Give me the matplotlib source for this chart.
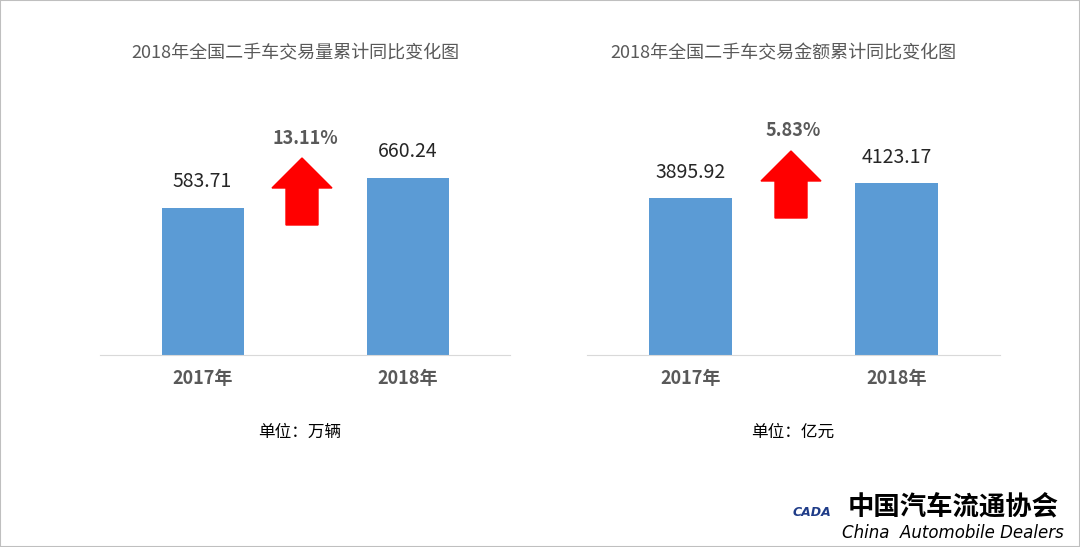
import matplotlib.pyplot as plt
from matplotlib.patches import Polygon, Rectangle

plt.rcParams['font.family'] = ['Noto Sans CJK SC', 'DejaVu Sans']

years = ["2017年", "2018年"]
volume = [583.71, 660.24]
amount = [3895.92, 4123.17]
growth = ["13.11%", "5.83%"]
titles = ["2018年全国二手车交易量累计同比变化图", "2018年全国二手车交易金额累计同比变化图"]
units = ["单位：万辆", "单位：亿元"]

W, H = 1080, 547
fig = plt.figure(figsize=(W / 100, H / 100), dpi=100)

def fx(px):
    return px / W

def fy(py):
    return 1 - py / H

panels = [
    dict(vals=volume, left=100, right=510, ylim=(208, 858), fmt="{:.2f}",
         arrow=(272, 158), gx=305, gy=138, tx=295, ux=300),
    dict(vals=amount, left=587, right=1000, ylim=(1517, 5380), fmt="{:.2f}",
         arrow=(761, 151), gx=793, gy=131, tx=783, ux=793),
]

for i, p in enumerate(panels):
    ax = fig.add_axes([fx(p["left"]), fy(355), fx(p["right"] - p["left"]), (355 - 100) / H])
    ax.bar(range(2), p["vals"], width=0.4, color="#5B9BD5", zorder=2)
    ax.set_xlim(-0.5, 1.5)
    ax.set_ylim(*p["ylim"])
    for s in ["top", "right", "left"]:
        ax.spines[s].set_visible(False)
    ax.spines["bottom"].set_color("#D9D9D9")
    ax.set_yticks([])
    ax.set_xticks(range(2))
    ax.set_xticklabels(years, fontsize=13, fontweight="bold", color="#595959")
    ax.tick_params(axis="x", length=0, pad=10)
    for x, v in enumerate(p["vals"]):
        ax.annotate(p["fmt"].format(v), (x, v), xytext=(0, 11), textcoords="offset points",
                    ha="center", va="bottom", fontsize=14, color="#262626")
    # red up arrow
    x0, y0 = p["arrow"]
    pts = [(x0 + 30, y0), (x0 + 60, y0 + 30), (x0 + 46, y0 + 30), (x0 + 46, y0 + 67),
           (x0 + 14, y0 + 67), (x0 + 14, y0 + 30), (x0, y0 + 30)]
    fig.patches.append(Polygon([(fx(a), fy(b)) for a, b in pts], closed=True,
                               transform=fig.transFigure, color="#FF0000"))
    fig.text(fx(p["gx"]), fy(p["gy"]), growth[i], ha="center", va="center",
             fontsize=13, fontweight="bold", color="#595959")
    fig.text(fx(p["tx"]), fy(53), titles[i], ha="center", va="center",
             fontsize=13, color="#595959")
    fig.text(fx(p["ux"]), fy(432), units[i], ha="center", va="center",
             fontsize=12, color="#000000")

# frame lines
fig.patches.append(Rectangle((0, 0), 1, 1, transform=fig.transFigure, fill=False,
                             edgecolor="#BFBFBF", lw=1.5))

fig.text(fx(848), fy(507), "中国汽车流通协会", ha="left", va="center",
         fontsize=19, fontweight="bold", color="#000000")
fig.text(fx(842), fy(533), "China  Automobile Dealers", ha="left", va="center",
         fontsize=12, style="italic", color="#000000", family="DejaVu Sans")
fig.text(fx(812), fy(512), "CADA", ha="center", va="center", fontsize=9,
         fontweight="bold", style="italic", color="#1F3C88", family="DejaVu Sans")

fig.savefig("out.png", dpi=100)
